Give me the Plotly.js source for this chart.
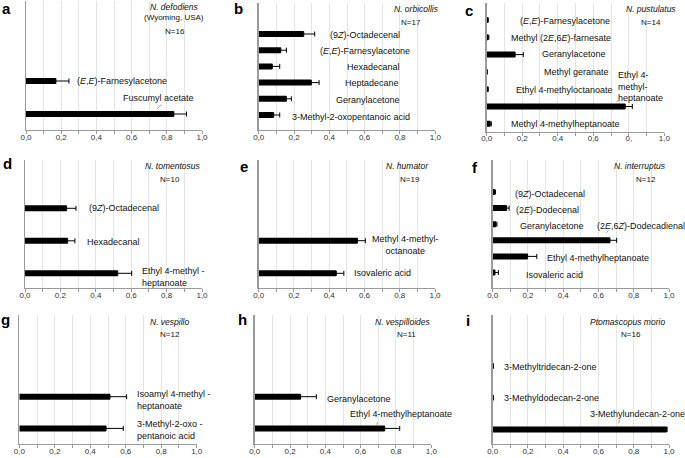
<!DOCTYPE html>
<html>
<head>
<meta charset="utf-8">
<script src="https://cdn.plot.ly/plotly-3.0.1.min.js"></script>
<style>html,body{margin:0;padding:0;background:#fff;}#chart{width:685px;height:458px;}</style>
</head>
<body>
<div id="chart"></div>
<script>
// ---------- DATA (relative amounts, mean and SE) ----------
const aCompounds = ["(<i>E</i>,<i>E</i>)-Farnesylacetone", "Fuscumyl acetate"];
const aMeans = [0.17, 0.84];
const aSE    = [0.074, 0.072];

const bCompounds = ["(9<i>Z</i>)-Octadecenal", "(<i>E</i>,<i>E</i>)-Farnesylacetone", "Hexadecanal", "Heptadecane", "Geranylacetone", "3-Methyl-2-oxopentanoic acid"];
const bMeans = [0.255, 0.125, 0.077, 0.298, 0.157, 0.085];
const bSE    = [0.062, 0.032, 0.042, 0.044, 0.028, 0.034];

const cCompounds = ["(<i>E</i>,<i>E</i>)-Farnesylacetone", "Methyl (2<i>E</i>,6<i>E</i>)-farnesate", "Geranylacetone", "Methyl geranate", "Ethyl 4-methyloctanoate", "Ethyl 4-<br>methyl-<br>heptanoate", "Methyl 4-methylheptanoate"];
const cMeans = [0.005, 0.008, 0.16, 0.002, 0.005, 0.78, 0.02];
const cSE    = [0.004, 0.004, 0.046, 0.001, 0.004, 0.04, 0.006];

const dCompounds = ["(9<i>Z</i>)-Octadecenal", "Hexadecanal", "Ethyl 4-methyl -<br>heptanoate"];
const dMeans = [0.235, 0.241, 0.524];
const dSE    = [0.053, 0.041, 0.079];

const eCompounds = ["Methyl 4-methyl-<br>octanoate", "Isovaleric acid"];
const eMeans = [0.56, 0.44];
const eSE    = [0.045, 0.043];

const fCompounds = ["(9<i>Z</i>)-Octadecenal", "(2<i>E</i>)-Dodecenal", "Geranylacetone", "(2<i>E</i>,6<i>Z</i>)-Dodecadienal", "Ethyl 4-methylheptanoate", "Isovaleric acid"];
const fMeans = [0.01, 0.079, 0.018, 0.665, 0.198, 0.013];
const fSE    = [0.006, 0.014, 0.006, 0.038, 0.052, 0.019];

const gCompounds = ["Isoamyl 4-methyl -<br>heptanoate", "3-Methyl-2-oxo -<br>pentanoic acid"];
const gMeans = [0.511, 0.489];
const gSE    = [0.094, 0.097];

const hCompounds = ["Geranylacetone", "Ethyl 4-methylheptanoate"];
const hMeans = [0.26, 0.736];
const hSE    = [0.089, 0.085];

const iCompounds = ["3-Methyltridecan-2-one", "3-Methyldodecan-2-one", "3-Methylundecan-2-one"];
const iMeans = [0.003, 0.003, 0.987];
const iSE    = [0.001, 0.001, 0.002];

const panelLetters = ["a", "b", "c", "d", "e", "f", "g", "h", "i"];
const speciesNames = ["N. defodiens", "N. orbicollis", "N. pustulatus", "N. tomentosus", "N. humator", "N. interruptus", "N. vespillo", "N. vespilloides", "Ptomascopus morio"];
const sampleSizes = ["N=16", "N=17", "N=14", "N=10", "N=19", "N=12", "N=12", "N=11", "N=16"];
const xTickVals = [0, 0.2, 0.4, 0.6, 0.8, 1.0];
const xTickText = ["0,0", "0,2", "0,4", "0,6", "0,8", "1,0"];
const xTickTextC = ["0,0", "0,2", "0,4", "0,6", "0,", "1,0"];

// ---------- LAYOUT (pixel geometry, label placement) ----------
const W = 685, H = 458;
const px = x => x / W;
const py = y => 1 - y / H;

const panels = [
  {cats:aCompounds, m:aMeans, se:aSE, x0:26, x1:202, top:1, bot:130, row0:81, sp:33,
   lx:[0.545,0.75], ly:[0,0.52], la:['center','center'],
   letter:[6,9], sp1:[174,7], sub:[174,18,"(Wyoming, USA)"], nn:[175,32],
   leaders:[[0.744,0.85,6,-6]]},
  {cats:bCompounds, m:bMeans, se:bSE, x0:258.7, x1:435.3, top:3, bot:130, row0:34, sp:16.2,
   lx:[0.60,0.60,0.65,0.64,0.62,0.52], ly:[0.05,1.05,2.05,3.05,4.05,5.1],
   letter:[238,9], sp1:[416,9], nn:[411,23], leaders:[]},
  {cats:cCompounds, m:cMeans, se:cSE, x0:486.7, x1:664.3, top:3, bot:131.5, row0:20, sp:17.3,
   lx:[0.44,0.417,0.494,0.503,0.438,0.73,0.445], ly:[0.06,1.02,1.97,3.0,4.04,3.86,6.01],
   la:['center','center','center','center','center','left','center'], ticktext:xTickTextC,
   letter:[469,10], sp1:[651,9], nn:[651,23], leaders:[[0.732,4.73,4,-4]]},
  {cats:dCompounds, m:dMeans, se:dSE, x0:25, x1:202, top:160, bot:288, row0:208.3, sp:32.5,
   lx:[0.559,0.499,0.65], ly:[0,1.04,2.11], la:['center','center','left'],
   letter:[7,163], sp1:[173,166], nn:[170,179], leaders:[]},
  {cats:eCompounds, m:eMeans, se:eSE, x0:258.7, x1:435, top:160, bot:288, row0:240.7, sp:32.6,
   lx:[0.83,0.70], ly:[0.12,1.0],
   letter:[244,166], sp1:[407,166], nn:[410,179], leaders:[]},
  {cats:fCompounds, m:fMeans, se:fSE, x0:492.7, x1:669, top:160, bot:288, row0:192, sp:16.1,
   lx:[0.327,0.309,0.337,0.84,0.599,0.348], ly:[0.12,1.12,2.1,2.1,4.08,5.14],
   letter:[475,168], sp1:[640,166], nn:[646,179], leaders:[[0.643,2.54,4,-4]]},
  {cats:gCompounds, m:gMeans, se:gSE, x0:19.3, x1:196.7, top:315, bot:444, row0:396.7, sp:31.7,
   lx:[0.652,0.652], ly:[0.11,1.06], la:['left','left'],
   letter:[5,319], sp1:[169.5,322], nn:[170,334], leaders:[]},
  {cats:hCompounds, m:hMeans, se:hSE, x0:254.7, x1:431.3, top:315, bot:444, row0:396.7, sp:31.7,
   lx:[0.59,0.83], ly:[0.08,0.53],
   letter:[243,319], sp1:[403,322], nn:[406,334], leaders:[[0.69,0.88,2,-4]]},
  {cats:iCompounds, m:iMeans, se:iSE, x0:492.7, x1:669, top:315, bot:444, row0:366, sp:31.7,
   lx:[0.328,0.335,0.821], ly:[0.02,1.0,1.5],
   letter:[468,320], sp1:[627,322], nn:[631,334], leaders:[[0.712,1.81,2.4,-5]]}
];

const FONT = "Liberation Sans, Arial, Helvetica, sans-serif";
const data = [];
const layout = {
  width: W, height: H,
  margin: {l:0, r:0, t:0, b:0, pad:0},
  paper_bgcolor: "#fff", plot_bgcolor: "rgba(0,0,0,0)",
  showlegend: false,
  separators: ", ",
  font: {family: FONT, size: 9, color: "#111"},
  annotations: []
};

panels.forEach((p, k) => {
  const n = k + 1;
  const xa = "x" + (n === 1 ? "" : n), ya = "y" + (n === 1 ? "" : n);
  const xk = "xaxis" + (n === 1 ? "" : n), yk = "yaxis" + (n === 1 ? "" : n);
  data.push({
    type: "bar", orientation: "h",
    x: p.m, y: p.cats, xaxis: xa, yaxis: ya,
    width: 6 / p.sp,
    marker: {color: "#000", line: {width: 0}},
    error_x: {type: "data", symmetric: false, array: p.se, arrayminus: p.se.map(() => 0),
              color: "#000", thickness: 1, width: 2.5},
    hoverinfo: "none"
  });
  layout[xk] = {
    domain: [px(p.x0), px(p.x1)], anchor: ya,
    range: [0, 1], tickmode: "array", tickvals: xTickVals, ticktext: p.ticktext || xTickText,
    ticks: "outside", ticklen: 3, tickcolor: "#999", tickwidth: 1, ticklabelstandoff: -4,
    showline: true, linecolor: "#9a9a9a", linewidth: 1.3,
    showgrid: true, gridcolor: "#e4e4e4", gridwidth: 1, zeroline: false,
    minor: {tickvals: [0.1,0.3,0.5,0.7,0.9], ticks: "outside", ticklen: 3, tickcolor: "#999", showgrid: true, gridcolor: "#e4e4e4"},
    tickfont: {family: FONT, size: 8, color: "#333"}, fixedrange: true
  };
  layout[yk] = {
    domain: [py(p.bot), py(p.top)], anchor: xa, type: "category",
    range: [(p.bot - p.row0) / p.sp, (p.top - p.row0) / p.sp],
    showticklabels: false, ticks: "", showgrid: false, zeroline: false,
    showline: true, linecolor: "#9a9a9a", linewidth: 1.3, fixedrange: true
  };
  // compound labels
  p.cats.forEach((c, j) => {
    const al = p.la ? p.la[j] : "center";
    layout.annotations.push({
      xref: xa, yref: ya, x: p.lx[j], y: p.ly[j], text: c, showarrow: false,
      xanchor: al, yanchor: "middle", align: al,
      font: {family: FONT, size: 9, color: "#111"}
    });
  });
  // leader lines
  p.leaders.forEach(L => {
    layout.annotations.push({
      xref: xa, yref: ya, x: L[0], y: L[1], text: "", showarrow: true,
      ax: L[2], ay: L[3], arrowhead: 0, arrowwidth: 0.8, arrowcolor: "#888", standoff: 0
    });
  });
  // panel letter
  layout.annotations.push({
    xref: "paper", yref: "paper", x: px(p.letter[0]), y: py(p.letter[1]),
    text: "<b>" + panelLetters[k] + "</b>", showarrow: false, xanchor: "center", yanchor: "middle",
    font: {family: FONT, size: 15, color: "#000"}
  });
  // species name
  layout.annotations.push({
    xref: "paper", yref: "paper", x: px(p.sp1[0]), y: py(p.sp1[1]),
    text: "<i>" + speciesNames[k] + "</i>", showarrow: false, xanchor: "center", yanchor: "middle",
    font: {family: FONT, size: 8.5, color: "#111"}
  });
  if (p.sub) {
    layout.annotations.push({
      xref: "paper", yref: "paper", x: px(p.sub[0]), y: py(p.sub[1]),
      text: p.sub[2], showarrow: false, xanchor: "center", yanchor: "middle",
      font: {family: FONT, size: 8, color: "#111"}
    });
  }
  layout.annotations.push({
    xref: "paper", yref: "paper", x: px(p.nn[0]), y: py(p.nn[1]),
    text: sampleSizes[k], showarrow: false, xanchor: "center", yanchor: "middle",
    font: {family: FONT, size: 8, color: "#111"}
  });
});

Plotly.newPlot("chart", data, layout, {staticPlot: true, displayModeBar: false});
</script>
</body>
</html>
